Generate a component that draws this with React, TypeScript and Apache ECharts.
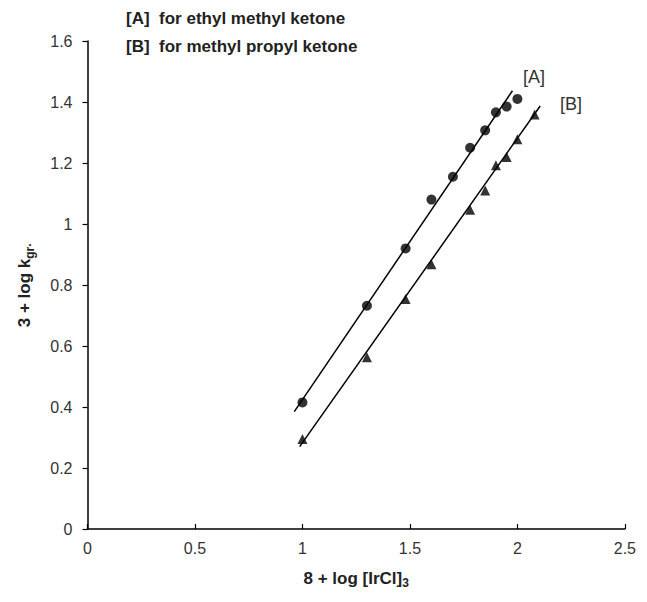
import React, { useEffect, useRef } from "react";
import * as echarts from "echarts";

const xTicks = [0, 0.5, 1, 1.5, 2, 2.5];
const yTicks = [0, 0.2, 0.4, 0.6, 0.8, 1, 1.2, 1.4, 1.6];

const xA = [1.0, 1.3, 1.48, 1.6, 1.7, 1.78, 1.85, 1.9, 1.95, 2.0];
const yA = [0.415, 0.732, 0.92, 1.08, 1.155, 1.25, 1.307, 1.366, 1.385, 1.41];
const xB = [1.0, 1.3, 1.48, 1.6, 1.78, 1.85, 1.9, 1.95, 2.0, 2.08];
const yB = [0.295, 0.563, 0.754, 0.868, 1.047, 1.11, 1.193, 1.22, 1.278, 1.359];

const fitAx = [0.962, 1.977];
const fitAy = [0.385, 1.437];
const fitBx = [0.987, 2.106];
const fitBy = [0.27, 1.387];

const legendLines = ["[A]  for ethyl methyl ketone", "[B]  for methyl propyl ketone"];
const lineLabels = ["[A]", "[B]"];

const FONT = "'Liberation Sans', Arial, Helvetica, sans-serif";

export default function App() {
  const ref = useRef<HTMLDivElement>(null);
  useEffect(() => {
    if (!ref.current) return;
    const chart = echarts.init(ref.current, null, { renderer: "svg" });
    const zip = (xs: number[], ys: number[]) => xs.map((x, i) => [x, ys[i]]);
    chart.setOption({
      animation: false,
      backgroundColor: "#ffffff",
      textStyle: { fontFamily: FONT },
      grid: { left: 72, right: 9, top: 33, bottom: 56 },
      xAxis: {
        type: "value",
        min: xTicks[0],
        max: xTicks[xTicks.length - 1],
        interval: 0.5,
        splitLine: { show: false },
        axisLine: { lineStyle: { color: "#000", width: 1.5 } },
        axisTick: { inside: true, length: 5, lineStyle: { color: "#000", width: 1.2 } },
        axisLabel: { color: "#333", fontSize: 16, margin: 11, fontFamily: FONT },
        name: "8 + log [IrCl]{sub|3}",
        nameLocation: "middle",
        nameGap: 39,
        nameTextStyle: {
          color: "#222",
          fontSize: 17,
          fontWeight: "bold",
          fontFamily: FONT,
          rich: { sub: { fontSize: 12, fontWeight: "bold", color: "#222", padding: [9, 0, 0, 0], fontFamily: FONT } },
        },
      },
      yAxis: {
        type: "value",
        min: yTicks[0],
        max: yTicks[yTicks.length - 1],
        interval: 0.2,
        splitLine: { show: false },
        axisLine: { show: true, lineStyle: { color: "#000", width: 1.5 } },
        axisTick: { show: true, length: 5, lineStyle: { color: "#000", width: 1.2 } },
        axisLabel: { color: "#333", fontSize: 16, margin: 15, fontFamily: FONT },
        name: "3 + log k{sub|gr·}",
        nameLocation: "middle",
        nameGap: 52,
        nameTextStyle: {
          color: "#222",
          fontSize: 17,
          fontWeight: "bold",
          fontFamily: FONT,
          rich: { sub: { fontSize: 12, fontWeight: "bold", color: "#222", padding: [10, 0, 0, 0], fontFamily: FONT } },
        },
      },
      series: [
        {
          type: "line",
          data: zip(fitAx, fitAy),
          showSymbol: false,
          symbol: "none",
          lineStyle: { color: "#000", width: 1.5 },
          silent: true,
        },
        {
          type: "line",
          data: zip(fitBx, fitBy),
          showSymbol: false,
          symbol: "none",
          lineStyle: { color: "#000", width: 1.5 },
          silent: true,
        },
        {
          type: "scatter",
          data: zip(xA, yA),
          symbol: "circle",
          symbolSize: 10,
          itemStyle: { color: "#000" },
        },
        {
          type: "scatter",
          data: zip(xB, yB),
          symbol: "triangle",
          symbolSize: 10,
          itemStyle: { color: "#000" },
        },
      ],
      graphic: [
        {
          type: "text",
          left: 118,
          top: 2,
          style: { text: legendLines[0], fontSize: 17, fontWeight: "bold", fill: "#222", fontFamily: FONT },
        },
        {
          type: "text",
          left: 118,
          top: 30,
          style: { text: legendLines[1], fontSize: 17, fontWeight: "bold", fill: "#222", fontFamily: FONT },
        },
        {
          type: "text",
          left: 515,
          top: 60,
          style: { text: lineLabels[0], fontSize: 18, fill: "#333", fontFamily: FONT },
        },
        {
          type: "text",
          left: 552,
          top: 87,
          style: { text: lineLabels[1], fontSize: 18, fill: "#333", fontFamily: FONT },
        },
      ],
    });
    return () => chart.dispose();
  }, []);
  return <div ref={ref} style={{ width: 631, height: 586 }} />;
}
